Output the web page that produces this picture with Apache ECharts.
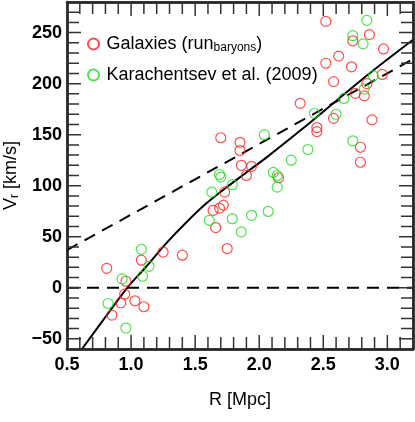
<!DOCTYPE html>
<html>
<head>
<meta charset="utf-8">
<script src="https://cdn.jsdelivr.net/npm/echarts@6/dist/echarts.min.js"></script>
<style>
  html, body { margin: 0; padding: 0; background: #fff; }
  #chart { width: 415px; height: 422px; }
</style>
</head>
<body>
<div id="chart"></div>
<script>
// simulated galaxies (run_baryons): [R Mpc, Vr km/s]
const galaxies = [
  [2.52, 261], [2.86, 248], [2.73, 242], [2.97, 234], [2.62, 227], [2.52, 220],
  [2.72, 216.5], [2.96, 209], [2.58, 202], [2.84, 200], [2.75, 190.5], [2.82, 188],
  [2.32, 180.7], [2.58, 166], [2.88, 164.5], [2.45, 157], [2.45, 153], [1.70, 147],
  [1.85, 142.5], [1.85, 134.5], [2.79, 137.7], [2.79, 123], [1.86, 120], [1.94, 119],
  [1.90, 110], [2.15, 107.8], [1.73, 93.7], [1.64, 75.8], [1.69, 78], [1.72, 81],
  [1.66, 59], [1.75, 38.4], [0.81, 19], [1.08, 27], [1.25, 35], [1.40, 31.9],
  [0.96, 6.4], [0.95, -6.3], [0.92, -14.7], [1.03, -12.8], [1.10, -18.6], [0.85, -26.8]
];
// Karachentsev et al. (2009)
const karachentsev = [
  [2.84, 262], [2.73, 247], [2.81, 239], [2.89, 207.7], [2.82, 194.7], [2.66, 185.5],
  [2.43, 171], [2.60, 170], [2.04, 150], [2.73, 144], [2.38, 135.4], [2.25, 125],
  [1.69, 111], [1.70, 108.5], [2.11, 113], [2.14, 110], [2.14, 98.6], [1.79, 101],
  [1.63, 93.7], [1.61, 66], [1.79, 67.7], [1.94, 71], [2.07, 74.8], [1.86, 54.8],
  [1.08, 37.7], [1.14, 21], [1.09, 11.3], [0.93, 8.7], [0.82, -15.4], [0.96, -39.5]
];
// solid curve
const fitR = [0.6, 0.83, 0.97, 1.12, 1.27, 1.43, 1.59, 1.74, 1.90, 2.07, 2.33, 2.59, 2.85, 3.2];
const fitV = [-63, -23.5, 0, 21, 43, 64, 83, 98, 113, 129, 155, 182, 209, 243];
// dashed straight line
const hubbleR = [0.5, 3.2];
const hubbleV = [37, 224];
// zero line
const zeroR = [0.5, 3.2];
const zeroV = [0, 0];

const xTickLabels = ['0.5', '1.0', '1.5', '2.0', '2.5', '3.0'];
const yTickLabels = ['\u221250', '0', '50', '100', '150', '200', '250'];

const xMin = 0.5, xMax = 3.2, yMin = -60, yMax = 280;
const gridW = 415 - 67 - 2, gridH = 422 - 2 - 73;

// tick positions: every 0.1 in R, every 10 in V
const xTicks = [];
for (let i = 5; i <= 32; i++) xTicks.push(i / 10);
const yTicks = [];
for (let v = yMin; v <= yMax; v += 10) yTicks.push(v);

const font = 'Liberation Sans, Arial, Helvetica, sans-serif';
const frame = () => ({ show: true, onZero: false, lineStyle: { color: '#000', width: 2.5 } });

const zip = (a, b) => a.map((v, i) => [v, b[i]]);

const xLabel = (v) => {
  const s = v.toFixed(1);
  return xTickLabels.indexOf(s) >= 0 ? s : '';
};
const yLabel = (v) => {
  const s = v < 0 ? '\u2212' + Math.abs(Math.round(v)) : String(Math.round(v));
  return yTickLabels.indexOf(s) >= 0 ? s : '';
};

// inward ticks: one zigzag polyline per side, running along the frame
const vPerPx = (yMax - yMin) / gridH;
const rPerPx = (xMax - xMin) / gridW;
const bottomTicks = [], topTicks = [], leftTicks = [], rightTicks = [];
xTicks.forEach((v) => {
  const len = (Math.round(v * 10) % 5 === 0 ? 14 : 12) * vPerPx;
  bottomTicks.push([v, yMin], [v, yMin + len], [v, yMin]);
  topTicks.push([v, yMax], [v, yMax - len], [v, yMax]);
});
yTicks.forEach((v) => {
  const len = (v % 50 === 0 ? 14 : 12) * rPerPx;
  leftTicks.push([xMin, v], [xMin + len, v], [xMin, v]);
  rightTicks.push([xMax, v], [xMax - len, v], [xMax, v]);
});

const tickLine = (name, data) => ({
  name: name,
  type: 'line',
  data: data,
  symbol: 'none',
  showSymbol: false,
  clip: false,
  silent: true,
  lineStyle: { color: '#333', width: 1.5 },
  z: 3,
});

const chart = echarts.init(document.getElementById('chart'));

const legendBase = {
  left: 82,
  orient: 'vertical',
  itemWidth: 16,
  itemHeight: 11,
  icon: 'circle',
  selectedMode: false,
  textStyle: {
    fontFamily: font,
    fontSize: 18,
    color: '#000',
    rich: {
      a: { fontFamily: font, fontSize: 18, lineHeight: 20, color: '#000' },
      b: { fontFamily: font, fontSize: 12, lineHeight: 12, verticalAlign: 'bottom', color: '#000' },
    },
  },
};

chart.setOption({
  animation: false,
  grid: { left: 67, right: 2, top: 2, bottom: 73, outerBoundsMode: 'none' },
  legend: [
    Object.assign({}, legendBase, { top: 30, data: ['Galaxies'], formatter: () => '{a|Galaxies (run}{b|baryons}{a|)}' }),
    Object.assign({}, legendBase, { top: 61, data: ['Karachentsev'], formatter: () => '{a|Karachentsev et al. (2009)}' }),
  ],
  xAxis: [
    {
      type: 'value',
      min: xMin,
      max: xMax,
      interval: 0.1,
      position: 'bottom',
      axisLine: frame(),
      axisTick: { show: false },
      splitLine: { show: false },
      axisLabel: {
        formatter: xLabel,
        fontFamily: font, fontSize: 18, fontWeight: 'bold', color: '#000', margin: 7,
        showMaxLabel: false,
      },
      name: 'R [Mpc]',
      nameLocation: 'middle',
      nameGap: 42,
      nameTextStyle: { fontFamily: font, fontSize: 18, color: '#000' },
    },
    {
      type: 'value',
      min: xMin,
      max: xMax,
      position: 'top',
      axisLine: frame(),
      axisTick: { show: false },
      splitLine: { show: false },
      axisLabel: { show: false },
    },
  ],
  yAxis: [
    {
      type: 'value',
      min: yMin,
      max: yMax,
      interval: 10,
      position: 'left',
      axisLine: frame(),
      axisTick: { show: false },
      splitLine: { show: false },
      axisLabel: {
        formatter: yLabel,
        fontFamily: font, fontSize: 18, fontWeight: 'bold', color: '#000', margin: 5,
      },
      name: '{v|V}{s|r}{v| [km/s]}',
      nameLocation: 'middle',
      nameGap: 42,
      nameTextStyle: {
        fontFamily: font, fontSize: 18, color: '#000',
        rich: {
          v: { fontFamily: font, fontSize: 18, lineHeight: 20, color: '#000' },
          s: { fontFamily: font, fontSize: 12, lineHeight: 12, verticalAlign: 'bottom', color: '#000' },
        },
      },
    },
    {
      type: 'value',
      min: yMin,
      max: yMax,
      position: 'right',
      axisLine: frame(),
      axisTick: { show: false },
      splitLine: { show: false },
      axisLabel: { show: false },
    },
  ],
  series: [
    tickLine('tickB', bottomTicks),
    tickLine('tickT', topTicks),
    tickLine('tickL', leftTicks),
    tickLine('tickR', rightTicks),
    { name: 'zero', type: 'line', data: zip(zeroR, zeroV), symbol: 'none', lineStyle: { color: '#000', width: 2, type: [12, 8] }, z: 1 },
    { name: 'hubble', type: 'line', data: zip(hubbleR, hubbleV), symbol: 'none', lineStyle: { color: '#000', width: 2, type: [12, 8] }, z: 1 },
    { name: 'fit', type: 'line', data: zip(fitR, fitV), symbol: 'none', smooth: 0.3, lineStyle: { color: '#000', width: 2 }, z: 1 },
    { name: 'Galaxies', type: 'scatter', data: galaxies, symbol: 'circle', symbolSize: 10,
      itemStyle: { color: 'transparent', borderColor: '#ff2222', borderWidth: 1.2 }, z: 3 },
    { name: 'Karachentsev', type: 'scatter', data: karachentsev, symbol: 'circle', symbolSize: 10,
      itemStyle: { color: 'transparent', borderColor: '#22dd22', borderWidth: 1.2 }, z: 3 },
  ],
});
</script>
</body>
</html>
